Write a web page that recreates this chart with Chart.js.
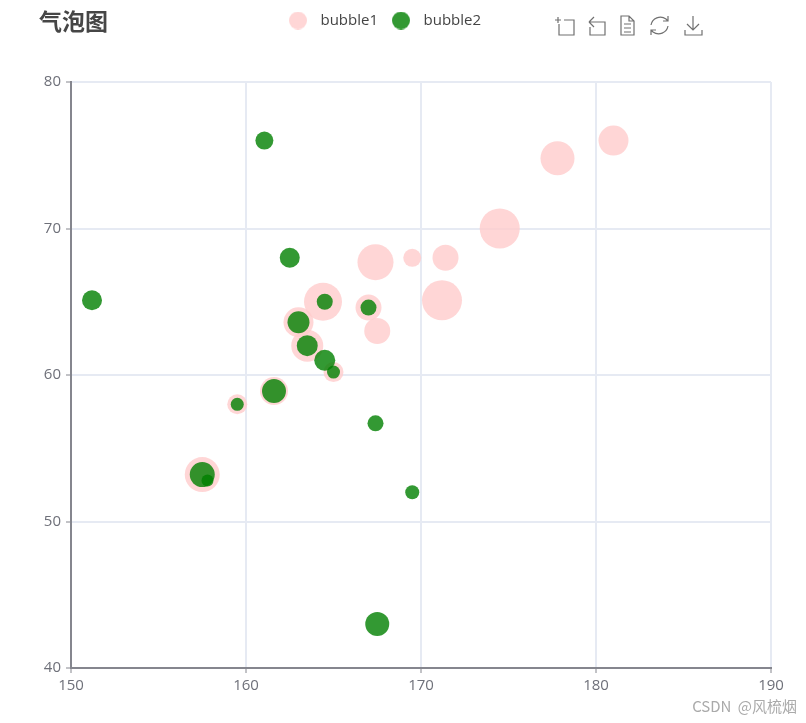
<!DOCTYPE html>
<html>
<head>
<meta charset="utf-8">
<style>
html,body{margin:0;padding:0;background:#fff;width:806px;height:723px;overflow:hidden;position:relative}
#wrap{position:absolute;left:0;top:0;width:806px;height:723px}
#title{position:absolute;left:39px;top:6px;font:bold 23px "Noto Sans CJK SC",sans-serif;color:#464646;line-height:28px}
#mark{position:absolute;right:9px;top:696px;font:15px "Noto Sans CJK SC",sans-serif;color:#aaa;line-height:20px;white-space:pre;word-spacing:3px}
#tools{position:absolute;left:0;top:0}
</style>
<script src="https://cdn.jsdelivr.net/npm/chart.js@4/dist/chart.umd.js"></script>
</head>
<body>
<div id="wrap"><canvas id="c" width="806" height="723"></canvas></div>
<div id="title">气泡图</div>
<div id="mark">CSDN @风梳烟</div>
<svg id="tools" width="806" height="60" fill="none" stroke="#707070" stroke-width="1.2">
  <path d="M555 20h6M558 17v6M564 20h10v15h-15v-11"/>
  <path d="M589 22l5-5M589 22l5 5M589 22h16v13h-15v-8"/>
  <path d="M621 16h8l5 5v14h-13zM629 16v5h5M624 24h7M624 28h7M624 32h7"/>
  <path d="M651 25a9.5 9.5 0 0 1 15-6l2 2M668 16v5h-5M668 26a9.5 9.5 0 0 1-15 6l-2-2M651 35v-5h5"/>
  <path d="M693 16v14M687 24l6 6 6-6M685 30v5h17v-5"/>
</svg>
<script>
const seriesNames = ["bubble1", "bubble2"];
const xTicks = [150, 160, 170, 180, 190];
const yTicks = [40, 50, 60, 70, 80];
const bubble1X = [181.0, 177.8, 174.5, 171.4, 169.5, 167.4, 171.2, 164.4, 167.0, 167.5, 163.0, 163.5, 165.0, 161.6, 159.5, 157.5];
const bubble1Y = [76.0, 74.8, 70.0, 68.0, 68.0, 67.7, 65.1, 65.0, 64.6, 63.0, 63.6, 62.0, 60.2, 58.9, 58.0, 53.2];
const bubble1R = [15, 17, 20, 13, 9, 18, 20, 19, 13, 13, 15, 16, 10, 14, 10, 17.5];
const bubble2X = [161.05, 162.5, 151.2, 164.5, 167.0, 163.0, 163.5, 164.5, 165.0, 161.6, 159.5, 157.5, 157.8, 167.4, 169.5, 167.5];
const bubble2Y = [76.0, 68.0, 65.1, 65.0, 64.6, 63.6, 62.0, 61.0, 60.2, 58.9, 58.0, 53.2, 52.8, 56.7, 52.0, 43.0];
const bubble2R = [9, 10, 10, 8, 8, 11, 10.5, 10.5, 6.5, 12, 6.5, 12.5, 6, 8, 7, 12];

function toPoints(xs, ys, rs) {
  return xs.map((x, i) => ({ x: x, y: ys[i], r: rs[i] }));
}
const axisColor = "#85868E";
const labelColor = "#6E7079";
const gridColor = "#E6EAF3";
const fontFamily = '"Open Sans", "Noto Sans", sans-serif';
const seriesColors = ["rgba(255,204,204,0.8)", "rgba(0,128,0,0.8)"];

function circleMarker(color) {
  const m = document.createElement("canvas");
  m.width = 18; m.height = 18;
  const g = m.getContext("2d");
  g.fillStyle = color;
  g.beginPath(); g.arc(9, 9, 9, 0, Math.PI * 2); g.fill();
  return m;
}

const placeLegend = {
  id: "placeLegend",
  afterLayout(chart) {
    const l = chart.legend;
    l.left = 0; l.right = 764;
    const h = l.height;
    l.top = 5; l.bottom = 5 + h;
  }
};

new Chart(document.getElementById("c"), {
  type: "bubble",
  data: {
    datasets: [
      { label: seriesNames[0], data: toPoints(bubble1X, bubble1Y, bubble1R), backgroundColor: seriesColors[0], borderWidth: 0, order: 2 },
      { label: seriesNames[1], data: toPoints(bubble2X, bubble2Y, bubble2R), backgroundColor: seriesColors[1], borderWidth: 0, order: 1 }
    ]
  },
  plugins: [placeLegend],
  options: {
    responsive: false,
    animation: false,
    layout: { padding: { left: 0, right: 35, top: 49, bottom: 0 } },
    plugins: {
      tooltip: { enabled: false },
      title: { display: false },
      legend: {
        display: true,
        position: "top",
        align: "center",
        labels: {
          usePointStyle: true, pointStyleWidth: 30, boxHeight: 15, padding: 8,
          color: "#444", font: { family: fontFamily, size: 15 },
          sort: (a, b) => a.datasetIndex - b.datasetIndex,
          generateLabels(chart) {
            return Chart.defaults.plugins.legend.labels.generateLabels(chart).map(it => {
              it.pointStyle = circleMarker(seriesColors[it.datasetIndex]);
              return it;
            });
          }
        }
      }
    },
    scales: {
      x: {
        type: "linear", min: xTicks[0], max: xTicks[xTicks.length - 1],
        afterFit(s) { s.height = 55; },
        afterBuildTicks(s) { s.ticks = xTicks.map(v => ({ value: v })); },
        border: { color: axisColor, width: 2 },
        grid: { color: gridColor, lineWidth: 2, tickColor: axisColor, tickLength: 5, tickWidth: 1 },
        ticks: { color: labelColor, font: { family: fontFamily, size: 15 }, padding: 4, maxRotation: 0 }
      },
      y: {
        type: "linear", min: yTicks[0], max: yTicks[yTicks.length - 1],
        afterFit(s) { s.width = 71; },
        afterBuildTicks(s) { s.ticks = yTicks.map(v => ({ value: v })); },
        border: { color: axisColor, width: 2 },
        grid: { color: gridColor, lineWidth: 2, tickColor: axisColor, tickLength: 5, tickWidth: 1 },
        ticks: { color: labelColor, font: { family: fontFamily, size: 15 }, padding: 5 }
      }
    }
  }
});
</script>
</body>
</html>
